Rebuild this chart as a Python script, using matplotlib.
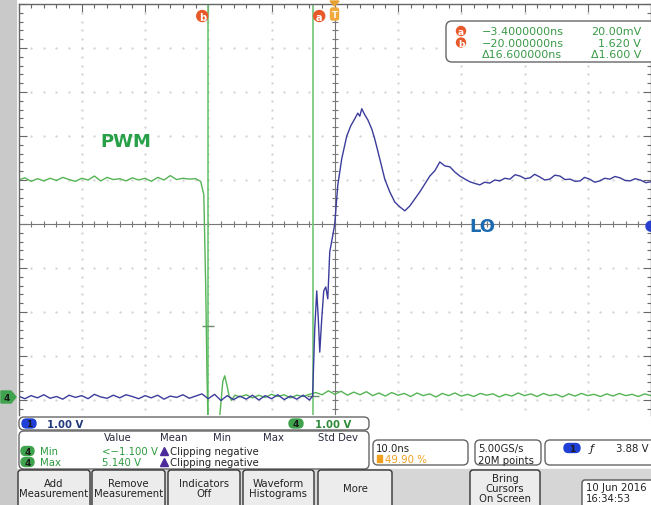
import numpy as np
import matplotlib.pyplot as plt
from matplotlib.patches import FancyBboxPatch, Rectangle, Circle, Polygon

W, H = 651, 506

# PWM (ch4): time in ns, level in V
pwm_t = [-50, -49, -48, -47, -46, -45, -44, -43, -42, -41, -40, -39, -38, -37, -36,
         -35, -34, -33, -32, -31, -30, -29, -28, -27, -26, -25, -24, -23, -22,
         -21.2, -20.7, -20.4, -20.2, -20.0, -19.6, -19.0, -18.5, -18.1, -17.7, -17.4,
         -17.1, -16.7, -16.3, -15.8,
         -15, -14, -13, -12, -11, -10, -9, -8, -7, -6, -5, -4, -3, -2, -1, 0,
         1, 2, 3, 4, 5, 6, 7, 8, 9, 10, 11, 12, 13, 14, 15, 16, 17, 18, 19, 20,
         21, 22, 23, 24, 25, 26, 27, 28, 29, 30, 31, 32, 33, 34, 35, 36, 37, 38, 39, 40,
         41, 42, 43, 44, 45, 46, 47, 48, 49, 50]
pwm_v = [4.93, 4.98, 4.90, 4.96, 4.91, 4.97, 4.92, 4.99, 4.94, 4.90, 4.97, 4.93, 5.02, 4.91, 4.99,
         4.94, 4.96, 4.91, 4.98, 4.93, 4.97, 4.90, 4.99, 4.93, 5.03, 4.94, 4.97, 4.95, 4.96,
         4.90, 4.60, 2.50, 0.50, -0.80, -1.30, -1.20, -0.90, -0.30, 0.35, 0.48,
         0.30, 0.02, -0.08, 0.04,
         0.00, 0.05, -0.02, 0.04, -0.01, 0.06, 0.01, 0.05, -0.02, 0.04, 0.01, 0.06, 0.10, 0.05, 0.14, 0.06,
         0.13, 0.04, 0.11, 0.05, 0.12, 0.03, 0.09, 0.02, 0.10, 0.04, 0.08, 0.01, 0.09, 0.03, 0.07, 0.00, 0.08, 0.03, 0.09, 0.02,
         0.06, 0.01, 0.08, 0.04, 0.07, 0.00, 0.06, 0.02, 0.09, 0.03, 0.07, 0.01, 0.08, 0.03, 0.06, 0.00, 0.07, 0.02, 0.08, 0.03,
         0.06, 0.01, 0.07, 0.02, 0.08, 0.03, 0.06, 0.01, 0.07, 0.03]

# LO (ch1)
lo_t = [-50, -49, -48, -47, -46, -45, -44, -43, -42, -41, -40, -39, -38, -37, -36,
        -35, -34, -33, -32, -31, -30, -29, -28, -27, -26, -25, -24, -23, -22, -21,
        -20, -19, -18, -17, -16, -15, -14, -13, -12, -11, -10, -9, -8, -7, -6, -5, -4, -3.5,
        -3.16, -2.85, -2.6, -2.37, -2.06, -1.74, -1.42, -1.1, -0.79, -0.4, 0.0, 0.47,
        1.1, 1.9, 2.53, 3.16, 3.64, 3.96, 4.27, 4.75, 5.22, 5.85, 6.33, 7.12, 7.91, 8.7,
        9.49, 10.28, 11.08, 11.87, 12.66, 13.45, 14.24, 15.03, 15.82, 16.61, 17.41, 18.2,
        19.0, 19.78, 20.6, 21.36, 22.2, 22.94, 23.7, 24.5, 25.3, 26.1, 26.9, 27.7, 28.5,
        29.3, 30.1, 30.9, 31.6, 32.4, 33.2, 34.0, 34.8, 35.6, 36.4, 37.2, 38.0, 38.8,
        39.5, 40.3, 41.1, 41.9, 42.7, 43.5, 44.3, 45.1, 45.9, 46.7, 47.5, 48.3, 49.2, 50.0]
lo_v = [0.02, -0.04, 0.03, -0.02, 0.05, -0.03, 0.01, -0.05, 0.04, -0.01, 0.03, -0.04, 0.06, 0.00, -0.03,
        0.04, -0.02, 0.05, 0.01, -0.04, 0.03, -0.02, 0.04, -0.05, 0.02, -0.01, 0.05, -0.03, 0.02, 0.07,
        -0.04, 0.06, -0.08, 0.03, -0.06, 0.02, -0.05, 0.04, -0.07, 0.03, -0.04, 0.05, -0.06, 0.02, -0.05, 0.04, -0.07, 0.02,
        1.55, 2.41, 1.77, 1.02, 1.77, 2.41, 2.50, 2.23, 3.30, 3.60, 3.93, 4.80,
        5.41, 5.93, 6.16, 6.32, 6.45, 6.38, 6.55, 6.41, 6.30, 6.09, 5.86, 5.41, 4.95, 4.66,
        4.43, 4.32, 4.23, 4.34, 4.50, 4.66, 4.84, 5.02, 5.14, 5.34, 5.25, 5.23,
        5.11, 5.02, 4.95, 4.89, 4.85, 4.82, 4.88, 4.86, 4.93, 4.91, 4.97, 4.95, 5.05,
        5.02, 4.96, 4.98, 5.06, 5.00, 4.93, 4.95, 5.04, 5.02, 4.94, 4.95, 4.90, 4.91,
        4.99, 4.95, 4.88, 4.91, 4.97, 4.95, 5.01, 4.98, 4.92, 4.91, 4.96, 4.93, 4.87, 4.89]

ch_offset = -3.93          # both grounds sit ~3.93 div under centre, 1 V/div
cursor_t = [-20.0, -3.4]
cursor_v = [1.62, 0.02]
cursor_names = ['b', 'a']
trig_level = 3.88

green = '#55b455'
blue = '#3c3c9c'
orange = '#e8592a'

fig = plt.figure(figsize=(W / 100, H / 100), dpi=100)

# background strips
bg = fig.add_axes([0, 0, 1, 1], zorder=0)
bg.set_xlim(0, W)
bg.set_ylim(H, 0)
bg.axis('off')
bg.add_patch(Rectangle((0, 416), W, H - 416, color='white'))
bg.add_patch(Rectangle((0, 470), W, 36, color='#d6d6d6'))
bg.add_patch(Rectangle((0, 0), 16, H, color='#c9c9c9'))

# scope screen
ax = fig.add_axes([18.5 / W, (H - 416) / H, (W - 18.5) / W, 411 / H], zorder=1)
ax.set_xlim(-50, 50)
ax.set_ylim(-4.34, 5.0)
ax.set_facecolor('white')

# dotted graticule
for gx in [-40, -30, -20, -10, 10, 20, 30, 40]:
    ys = np.arange(-4.2, 5.0, 0.2)
    ax.plot(np.full(len(ys), gx), ys, ls='none', marker='.', ms=1.3, color='#d2d2d2')
for gy in [-4, -3, -2, -1, 1, 2, 3, 4]:
    xs = np.arange(-48, 50, 2)
    ax.plot(xs, np.full(len(xs), gy), ls='none', marker='.', ms=1.3, color='#d2d2d2')
ax.axhline(0, color='#777777', lw=0.8)
ax.axvline(0, color='#777777', lw=0.8)
xs = np.arange(-48, 50, 2)
ax.plot(xs, np.zeros(len(xs)), ls='none', marker='|', ms=5, mew=0.8, color='#777777')
ys = np.arange(-4.2, 5.0, 0.2)
ax.plot(np.zeros(len(ys)), ys, ls='none', marker='_', ms=5, mew=0.8, color='#777777')

ax.set_xticks(np.arange(-50, 51, 10))
ax.set_xticks(np.arange(-50, 51, 2), minor=True)
ax.set_yticks(np.arange(-4, 6, 1))
ax.set_yticks(np.arange(-4.2, 5.0, 0.2), minor=True)
ax.tick_params(which='both', direction='in', top=True, right=True, bottom=False,
               labelbottom=False, labelleft=False, color='#666666', width=0.8)
ax.tick_params(which='major', length=6)
ax.tick_params(which='minor', length=3)
for s in ax.spines.values():
    s.set_color('#666666')
    s.set_linewidth(1)
ax.spines['bottom'].set_visible(False)

# cursors
for t in cursor_t:
    ax.axvline(t, color='#70c474', lw=1.2)
for t, v in zip(cursor_t, cursor_v):
    ax.plot(t, v + ch_offset, marker='_', ms=9, mew=1, color='#6a8a6a')

ax.plot(pwm_t, np.array(pwm_v) + ch_offset, color=green, lw=1)
ax.plot(lo_t, np.array(lo_v) + ch_offset, color=blue, lw=1)

# overlay readouts
fg = fig.add_axes([0, 0, 1, 1], zorder=3)
fg.set_xlim(0, W)
fg.set_ylim(H, 0)
fg.axis('off')
fg.patch.set_alpha(0)

fs = 7.3
fg.text(100, 142, 'PWM', color='#27a048', fontsize=13, fontweight='bold', va='center')
fg.text(469, 227, 'LO', color='#1c6bb0', fontsize=13, fontweight='bold', va='center')


def box(x, y, w, h, fc='white', ec='#666666', r=5, lw=1):
    fg.add_patch(FancyBboxPatch((x, y), w, h, boxstyle=f'round,pad=0,rounding_size={r}',
                                fc=fc, ec=ec, lw=lw))


def pill(x, y, label, fc, w=14, h=9):
    box(x, y, w, h, fc=fc, ec=fc, r=h / 2)
    fg.text(x + w / 2, y + h / 2 + 0.5, label, fontsize=6.5, ha='center', va='center',
            color='#1a1a1a', fontweight='bold')


# cursor markers along the top edge (b sits left of its line, a right of it)
for t, name, dx in zip(cursor_t, cursor_names, [-6, 6]):
    px = 18.5 + (t + 50) / 100 * (W - 18.5) + dx
    fg.add_patch(Circle((px, 17), 5.5, color=orange))
    fg.text(px, 17.5, name, color='white', fontsize=7, ha='center', va='center', fontweight='bold')
fg.add_patch(Polygon([[330, 2], [339, 2], [334.5, 7]], color='#e8a030'))
box(330.5, 9, 8, 12, fc='#f2a93b', ec='#f2a93b', r=2)
fg.text(334.5, 15.5, 'T', color='white', fontsize=6, ha='center', va='center', fontweight='bold')

# ground / trigger markers
fg.add_patch(Polygon([[1, 392], [11, 392], [16, 398], [11, 404], [1, 404]], color='#3fa34d'))
fg.text(7, 398.5, '4', fontsize=6.5, ha='center', va='center', color='#1a1a1a', fontweight='bold')
trig_px = 225 - (trig_level + ch_offset) * 44
fg.add_patch(Circle((W, trig_px), 5, color='#2a3fd0'))

# cursor readout box
box(446, 22, 210, 41, r=6)
rows = [('a', '\u22123.4000000ns', '20.00mV'),
        ('b', '\u221220.000000ns', '1.620 V'),
        ('', '\u039416.600000ns', '\u03941.600 V')]
for i, (nm, tt, vv) in enumerate(rows):
    y = 32 + i * 11.5
    if nm:
        fg.add_patch(Circle((461, y), 4.5, color=orange))
        fg.text(461, y + 0.5, nm, color='white', fontsize=6.5, ha='center', va='center', fontweight='bold')
    fg.text(482, y, tt, color='#3a9a48', fontsize=8, va='center')
    fg.text(641, y, vv, color='#3a9a48', fontsize=8, va='center', ha='right')

# channel scale bar
box(19, 418, 350, 13)
pill(22, 420, '1', '#1f3fd6')
fg.text(47, 425, '1.00 V', color='#233a7a', fontsize=fs, va='center', fontweight='bold')
pill(289, 420, '4', '#3fa34d')
fg.text(315, 425, '1.00 V', color='#2d8a38', fontsize=fs, va='center', fontweight='bold')

# measurement table
box(19, 432, 350, 38)
for lab, x in [('Value', 104), ('Mean', 160), ('Min', 213), ('Max', 263), ('Std Dev', 318)]:
    fg.text(x, 438, lab, color='#2b2b40', fontsize=fs, va='center')
meas = [('Min', '<\u22121.100 V'), ('Max', '5.140 V')]
for i, (nm, val) in enumerate(meas):
    y = 452 + i * 11
    pill(21, y - 4.5, '4', '#3fa34d', w=13)
    fg.text(40, y, nm, color='#2d9a3e', fontsize=fs, va='center')
    fg.text(102, y, val, color='#2d9a3e', fontsize=fs, va='center')
    fg.plot(164, y, marker='^', ms=6, color='#4b2a9a')
    fg.text(170, y, 'Clipping negative', color='#222222', fontsize=fs, va='center')

# timebase / acquisition / trigger boxes
box(373, 441, 95, 25)
fg.text(376, 449, '10.0ns', color='#222222', fontsize=fs, va='center')
fg.add_patch(Rectangle((377, 456), 5, 7, color='#f0a020'))
fg.text(385, 460, '49.90 %', color='#f0a020', fontsize=fs, va='center')
box(475, 441, 66, 25)
fg.text(478, 449, '5.00GS/s', color='#222222', fontsize=fs, va='center')
fg.text(478, 461, '20M points', color='#222222', fontsize=fs, va='center')
box(545, 441, 115, 25)
pill(564, 444.5, '1', '#1f3fd6', w=16)
fg.text(590, 449, '\u0192', color='#222222', fontsize=8, va='center', style='italic')
fg.text(649, 449, '3.88 V', color='#222222', fontsize=fs, va='center', ha='right')

# soft buttons
buttons = [(18, 90, 'Add\nMeasurement'), (92, 165, 'Remove\nMeasurement'),
           (168, 240, 'Indicators\nOff'), (243, 314, 'Waveform\nHistograms'),
           (318, 392, 'More'), (470, 540, 'Bring\nCursors\nOn Screen')]
for x0, x1, lab in buttons:
    box(x0, 471, x1 - x0, 40, fc='#ececec', ec='#333333', r=3)
    fg.text((x0 + x1) / 2, 489, lab, color='#222222', fontsize=fs, ha='center', va='center',
            linespacing=1.05)
box(582, 481, 75, 30, fc='white', ec='#555555', r=3)
fg.text(586, 488, '10 Jun 2016', color='#222222', fontsize=fs, va='center')
fg.text(586, 499, '16:34:53', color='#222222', fontsize=fs, va='center')

fig.savefig('out.png', dpi=100)
